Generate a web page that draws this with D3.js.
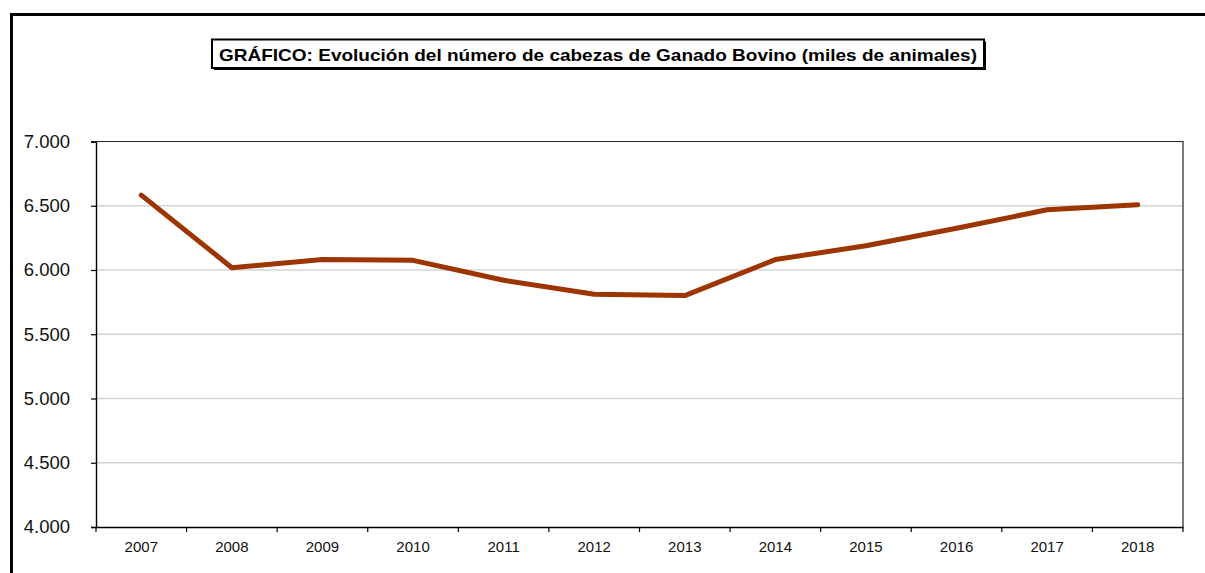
<!DOCTYPE html>
<html>
<head>
<meta charset="utf-8">
<script src="https://cdn.jsdelivr.net/npm/d3@7"></script>
<style>
  body { margin: 0; background: #fff; }
  text { font-family: "Liberation Sans", Arial, sans-serif; }
</style>
</head>
<body>
<div id="chart"></div>
<script>
// data
const years = ["2007", "2008", "2009", "2010", "2011", "2012", "2013", "2014", "2015", "2016", "2017", "2018"];
const cabezas = [6583, 6018, 6081, 6075, 5920, 5811, 5801, 6081, 6189, 6325, 6469, 6508];
const yTicks = [4000, 4500, 5000, 5500, 6000, 6500, 7000];
const titulo = "GRÁFICO: Evolución del número de cabezas de Ganado Bovino (miles de animales)";

const width = 1205, height = 573;
const margin = { top: 141.5, right: 22, bottom: 46, left: 96 };
const innerW = width - margin.left - margin.right;
const innerH = height - margin.top - margin.bottom;

const svg = d3.select("#chart").append("svg")
  .attr("width", width)
  .attr("height", height);

// outer frame (runs off the page at right and bottom)
svg.append("rect")
  .attr("x", 11.5).attr("y", 14.5)
  .attr("width", 1400).attr("height", 800)
  .attr("fill", "none")
  .attr("stroke", "#000")
  .attr("stroke-width", 3);

// title with its box
const titleG = svg.append("g");
titleG.append("rect")
  .attr("x", 212 + 2).attr("y", 39.5 + 2)
  .attr("width", 772).attr("height", 28.5)
  .attr("fill", "#000");
titleG.append("rect")
  .attr("x", 212).attr("y", 39.5)
  .attr("width", 772).attr("height", 28.5)
  .attr("fill", "#fff")
  .attr("stroke", "#000")
  .attr("stroke-width", 2);
titleG.append("text")
  .attr("x", 598).attr("y", 60.5)
  .attr("text-anchor", "middle")
  .style("font-weight", "bold")
  .style("font-size", "17px")
  .attr("textLength", 758)
  .attr("lengthAdjust", "spacingAndGlyphs")
  .text(titulo);

const g = svg.append("g")
  .attr("transform", `translate(${margin.left},${margin.top})`);

const x = d3.scaleBand()
  .domain(years)
  .range([0, innerW]);

const y = d3.scaleLinear()
  .domain([4000, 7000])
  .range([innerH, 0]);

// gridlines
g.selectAll(".grid")
  .data(yTicks.filter(d => d > 4000 && d < 7000))
  .enter().append("line")
  .attr("x1", 0).attr("x2", innerW)
  .attr("y1", d => y(d)).attr("y2", d => y(d))
  .attr("stroke", "#d4d4d4")
  .attr("stroke-width", 1.3);

// plot area border (top and right)
g.append("path")
  .attr("d", `M0,0H${innerW}V${innerH}`)
  .attr("fill", "none")
  .attr("stroke", "#222")
  .attr("stroke-width", 1.2);

// y axis
const fmt = d => d3.format(",")(d).replace(",", ".");
const yAxis = g.append("g")
  .call(d3.axisLeft(y).tickValues(yTicks).tickFormat(fmt).tickSize(5).tickPadding(21));
yAxis.select(".domain").attr("stroke", "#000").attr("stroke-width", 1.4);
yAxis.selectAll("line").attr("stroke", "#000").attr("stroke-width", 1.2);
yAxis.selectAll("text")
  .style("font-size", "18.5px")
  .style("font-family", "'Liberation Sans', Arial, sans-serif")
  .attr("fill", "#111");

// x axis, ticks at category boundaries
const xAxis = g.append("g")
  .attr("transform", `translate(0,${innerH})`)
  .call(d3.axisBottom(x).tickSize(0).tickPadding(14));
xAxis.select(".domain").attr("stroke", "#000").attr("stroke-width", 1.4);
xAxis.selectAll("text")
  .style("font-size", "15px")
  .style("font-family", "'Liberation Sans', Arial, sans-serif")
  .attr("fill", "#111");
xAxis.selectAll(".bound")
  .data(years.concat(["end"]))
  .enter().append("line")
  .attr("x1", (d, i) => i * x.bandwidth())
  .attr("x2", (d, i) => i * x.bandwidth())
  .attr("y1", 0).attr("y2", 5)
  .attr("stroke", "#000")
  .attr("stroke-width", 1.2);

// the series
const line = d3.line()
  .x((d, i) => x(years[i]) + x.bandwidth() / 2)
  .y(d => y(d));

g.append("path")
  .datum(cabezas)
  .attr("d", line)
  .attr("fill", "none")
  .attr("stroke", "#9c3500")
  .attr("stroke-width", 5)
  .attr("stroke-linecap", "round")
  .attr("stroke-linejoin", "round");
</script>
</body>
</html>
